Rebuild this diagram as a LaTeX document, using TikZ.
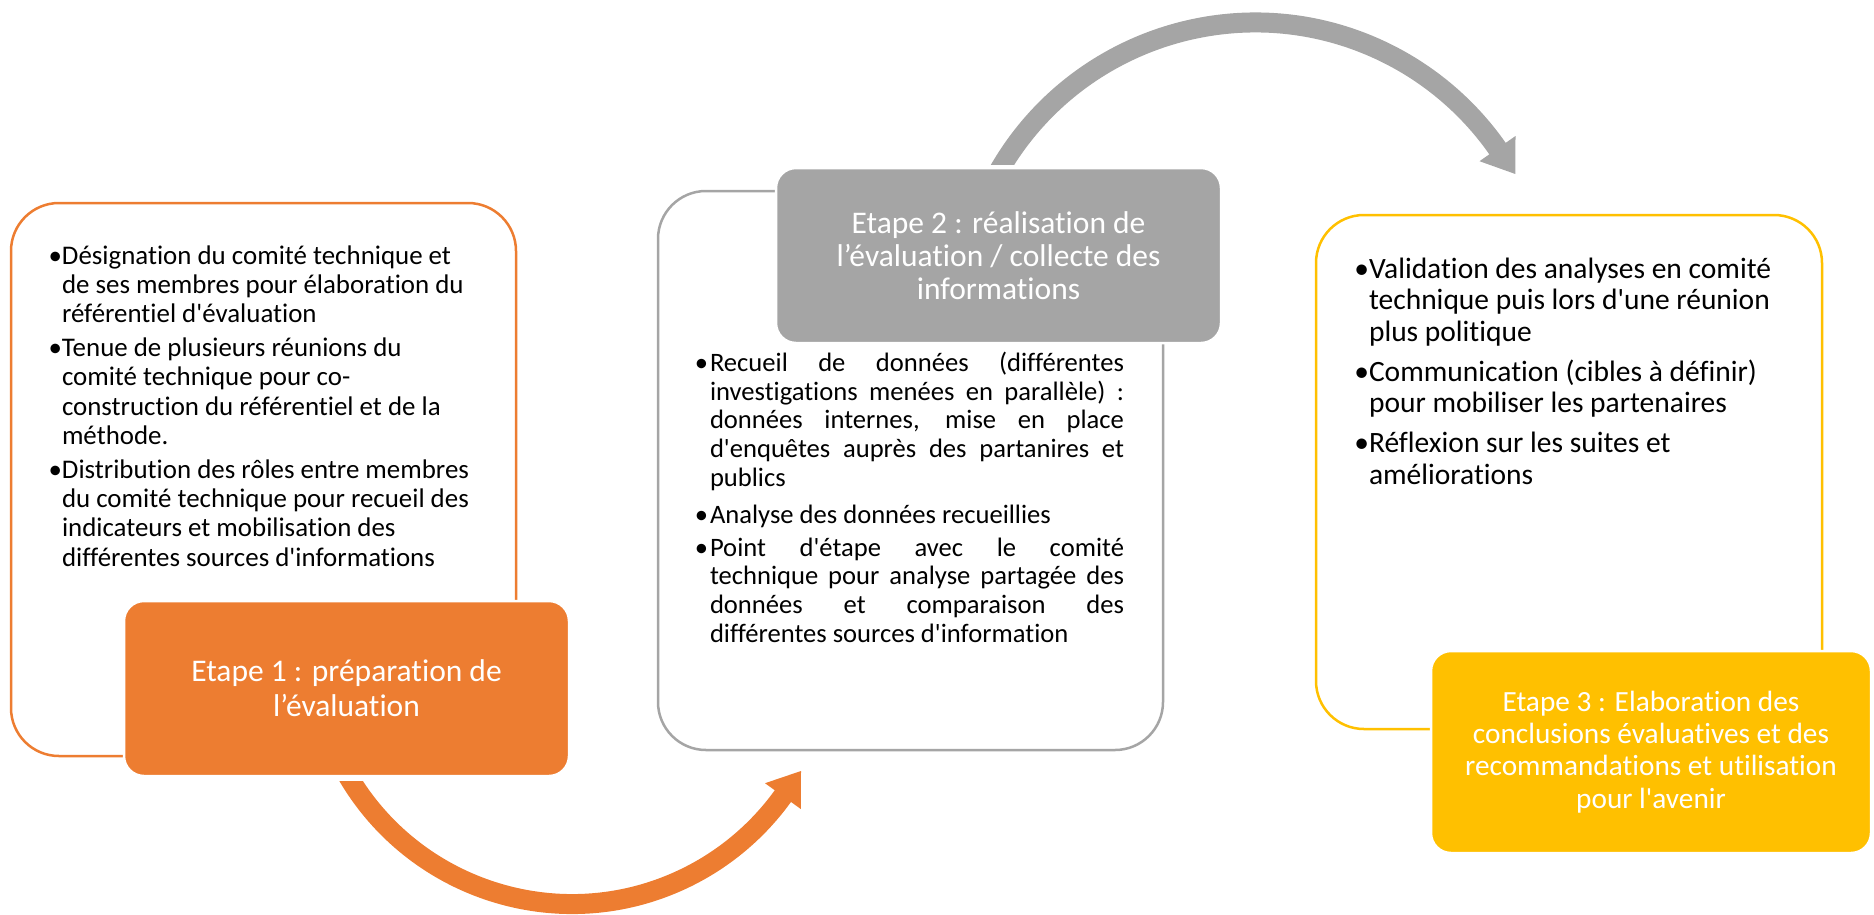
\documentclass[tikz,border=0pt]{standalone}
\usepackage{fontspec}
\setmainfont{Carlito}[Ligatures={TeXOff,CommonOff}]
\usetikzlibrary{calc}
\definecolor{corange}{HTML}{ED7D31}
\definecolor{cgray}{HTML}{A5A5A5}
\definecolor{cgold}{HTML}{FFC000}
\newcommand{\bul}{\llap{•}}
\newcommand{\bulb}{\llap{•\hspace{2pt}}}
\newcommand{\jl}[1]{\makebox[414pt][s]{#1}}
\begin{document}
\begin{tikzpicture}[x=1pt,y=-1pt,
  every node/.style={inner sep=0pt, outer sep=0pt},
  frame/.style={draw, line width=2.5pt, rounded corners=48pt, fill=white},
  headbox/.style={draw=white, line width=2.5pt, rounded corners=20pt, text=white, align=center},
  bodytext/.style={align=left, anchor=base west, text=black},
  band/.style={line width=20pt, line cap=butt}]
\useasboundingbox (0,0) rectangle (1874,914);

% outline frames
\node[frame, draw=corange, minimum width=505pt, minimum height=553pt] (f1) at (263.5,479.5) {};
\node[frame, draw=cgray, minimum width=505pt, minimum height=559pt] (f2) at (910.5,470.5) {};
\node[frame, draw=cgold, minimum width=506pt, minimum height=514pt] (f3) at (1569,472) {};

% header boxes
\node[headbox, fill=corange, minimum width=445pt, minimum height=175pt,
      font=\fontsize{31.5}{35}\selectfont] (h1) at (346.5,688.5)
  {Etape 1 : préparation de\\l’évaluation};
\node[headbox, fill=cgray, minimum width=445pt, minimum height=175pt,
      font=\fontsize{31.5}{33}\selectfont] (h2) at (998.5,255.5)
  {Etape 2 : réalisation de\\l’évaluation / collecte des\\informations};
\node[headbox, fill=cgold, minimum width=440pt, minimum height=202pt,
      font=\fontsize{29.3}{32.3}\selectfont] (h3) at (1651,752)
  {Etape 3 : Elaboration des\\conclusions évaluatives et des\\recommandations et utilisation\\pour l'avenir};

% body texts (anchored at the baseline of their last line)
\node[bodytext, font=\fontsize{26.9}{29.3}\selectfont] (t1) at (62,566)
  {\bul Désignation du comité technique et\\
   de ses membres pour élaboration du\\
   référentiel d'évaluation\\[4.5pt]
   \bul Tenue de plusieurs réunions du\\
   comité technique pour co-\\
   construction du référentiel et de la\\
   méthode.\\[4.5pt]
   \bul Distribution des rôles entre membres\\
   du comité technique pour recueil des\\
   indicateurs et mobilisation des\\
   différentes sources d'informations};

\node[bodytext, font=\fontsize{26.6}{28.7}\selectfont] (t2) at (710,642.3)
  {\bulb\jl{Recueil de données (différentes}\\
   \jl{investigations menées en parallèle) :}\\
   \jl{données internes, mise en place}\\
   \jl{d'enquêtes auprès des partanires et}\\
   publics\\[8.3pt]
   \bulb Analyse des données recueillies\\[4.3pt]
   \bulb\jl{Point d'étape avec le comité}\\
   \jl{technique pour analyse partagée des}\\
   \jl{données et comparaison des}\\
   différentes sources d'information};

\node[bodytext, font=\fontsize{29.5}{31.5}\selectfont] (t3) at (1369,484)
  {\bul Validation des analyses en comité\\
   technique puis lors d'une réunion\\
   plus politique\\[8.5pt]
   \bul Communication (cibles à définir)\\
   pour mobiliser les partenaires\\[8.5pt]
   \bul Réflexion sur les suites et\\
   améliorations};

% orange curved arrow (step 1 -> step 2)
\coordinate (oc) at (572,644);
\coordinate (otail) at ($(oc)+(152:260)$);
\coordinate (otip) at (801,771);
\coordinate (ob1) at (765,783.2);
\coordinate (ob2) at (800.8,809);
\begin{scope}
  \clip (0,781) rectangle (1874,914);
  \draw[band, draw=corange] (otail) arc[start angle=152, end angle=35.5, radius=260];
\end{scope}
\fill[corange] (ob1) -- (otip) -- (ob2) -- cycle;

% gray curved arrow (step 2 -> step 3)
\coordinate (gc) at (1255.3,318.2);
\coordinate (gtail) at ($(gc)+(207:295.7)$);
\coordinate (gtip) at (1515.3,174);
\coordinate (gb1) at (1515.5,136);
\coordinate (gb2) at (1479.5,161.2);
\begin{scope}
  \clip (0,0) rectangle (1874,164);
  \draw[band, draw=cgray] (gtail) arc[start angle=207, end angle=325.3, radius=295.7];
\end{scope}
\fill[cgray] (gb1) -- (gtip) -- (gb2) -- cycle;
\end{tikzpicture}
\end{document}
